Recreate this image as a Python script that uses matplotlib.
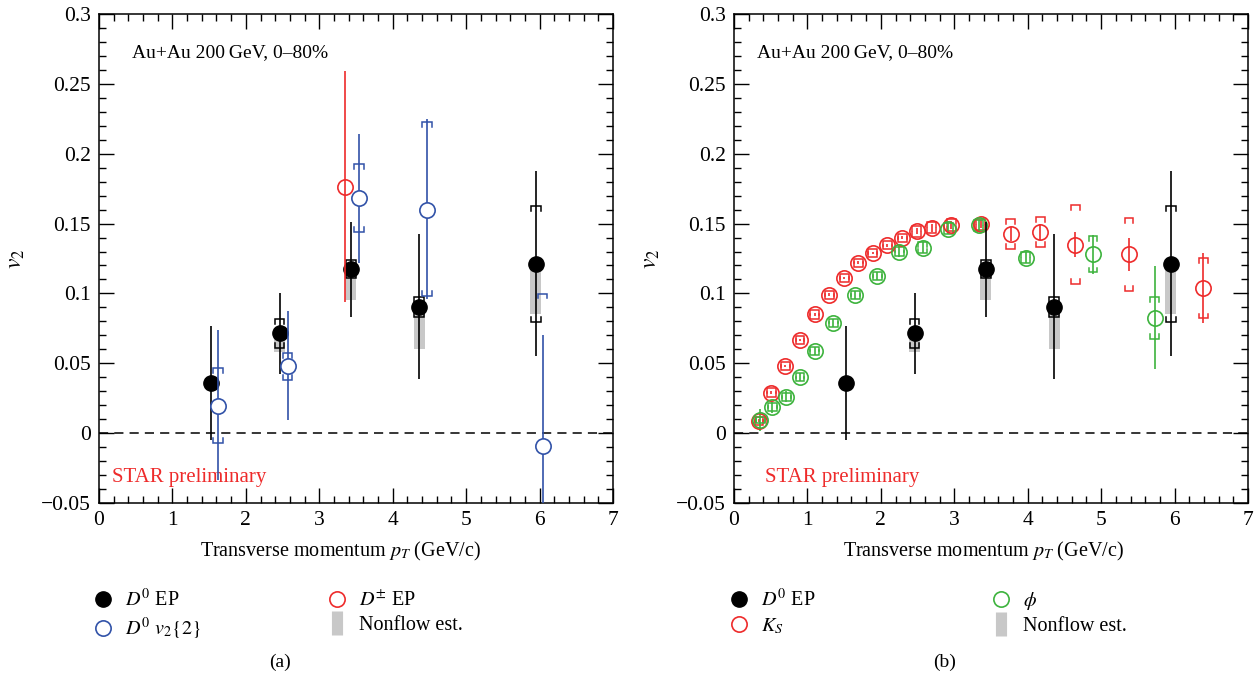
import matplotlib
matplotlib.use('Agg')
import matplotlib.pyplot as plt
from matplotlib.lines import Line2D
from matplotlib.ticker import MultipleLocator

plt.rcParams['font.family'] = ['Liberation Serif', 'DejaVu Serif']
plt.rcParams['mathtext.fontset'] = 'stix'

# ---------------- data ----------------
# D0 EP (both panels)
d0_pt = [1.52, 2.46, 3.43, 4.36, 5.95]
d0_v2 = [0.036, 0.0714, 0.1174, 0.0905, 0.1214]
d0_stat = [0.041, 0.029, 0.034, 0.052, 0.066]
d0_sys_hi = [0.003, 0.0103, 0.0065, 0.0066, 0.0410]
d0_sys_lo = [0.003, 0.0103, 0.0067, 0.0071, 0.0417]
d0_nonflow = [0.004, 0.0136, 0.0220, 0.0304, 0.0362]

# D0 v2{2}
d0v22_pt = [1.62, 2.57, 3.54, 4.47, 6.04]
d0v22_v2 = [0.0196, 0.0482, 0.168, 0.160, -0.0091]
d0v22_stat_hi = [0.054, 0.039, 0.046, 0.065, 0.079]
d0v22_stat_lo = [0.053, 0.039, 0.046, 0.064, 0.079]
d0v22_sys_hi = [0.0267, 0.0091, 0.0246, 0.0629, 0.109]
d0v22_sys_lo = [0.0263, 0.0100, 0.0238, 0.0617, 0.109]

# D+- EP
dpm_pt = [3.35]
dpm_v2 = [0.1759]
dpm_stat_hi = [0.083]
dpm_stat_lo = [0.082]

# K_S
ks_pt = [0.34, 0.51, 0.70, 0.90, 1.10, 1.30, 1.50, 1.69, 1.89, 2.09, 2.29,
         2.49, 2.69, 2.96, 3.36, 3.77, 4.17, 4.65, 5.38, 6.39]
ks_v2 = [0.0088, 0.029, 0.048, 0.0667, 0.085, 0.099, 0.111, 0.122, 0.129,
         0.1345, 0.1398, 0.1445, 0.147, 0.149, 0.1495, 0.1426, 0.144, 0.135,
         0.128, 0.1036]
ks_stat = [0.001, 0.001, 0.001, 0.001, 0.001, 0.001, 0.001, 0.001, 0.001,
           0.001, 0.001, 0.002, 0.003, 0.003, 0.003, 0.005, 0.006, 0.009,
           0.012, 0.025]
ks_sys = [0.003, 0.003, 0.003, 0.003, 0.003, 0.003, 0.003, 0.003, 0.003,
          0.003, 0.003, 0.004, 0.004, 0.004, 0.004, 0.0105, 0.0105, 0.028,
          0.026, 0.0215]

# phi
phi_pt = [0.36, 0.52, 0.71, 0.90, 1.10, 1.35, 1.65, 1.95, 2.25, 2.57, 2.92,
          3.33, 3.97, 4.89, 5.73]
phi_v2 = [0.0095, 0.0186, 0.026, 0.040, 0.059, 0.079, 0.099, 0.1126, 0.130,
          0.1326, 0.1464, 0.1488, 0.1257, 0.128, 0.0826]
phi_stat = [0.008, 0.004, 0.004, 0.003, 0.003, 0.003, 0.003, 0.003, 0.004,
            0.004, 0.004, 0.004, 0.004, 0.014, 0.037]
phi_sys = [0.002, 0.003, 0.003, 0.003, 0.003, 0.003, 0.003, 0.003, 0.003,
           0.004, 0.004, 0.004, 0.004, 0.013, 0.015]

# ---------------- style ----------------
RED = '#ee2b2b'
BLUE = '#3152a8'
GREEN = '#3db33d'
GRAY = '#c8c8c8'
MS = 11


def brackets(ax, x, y, lo, hi, color, hw=0.065, tick=0.0035, lw=1.1, z=3):
    for xi, yi, l, h in zip(x, y, lo, hi):
        top = yi + h
        bot = yi - l
        ax.plot([xi - hw, xi - hw, xi + hw, xi + hw],
                [top - tick, top, top, top - tick], color=color, lw=lw,
                zorder=z, solid_joinstyle='miter')
        ax.plot([xi - hw, xi - hw, xi + hw, xi + hw],
                [bot + tick, bot, bot, bot + tick], color=color, lw=lw,
                zorder=z, solid_joinstyle='miter')


def setup(ax, xlabel_pos, text_x):
    ax.set_xlim(0, 7)
    ax.set_ylim(-0.05, 0.3)
    ax.xaxis.set_major_locator(MultipleLocator(1))
    ax.xaxis.set_minor_locator(MultipleLocator(0.2))
    ax.yaxis.set_major_locator(MultipleLocator(0.05))
    ax.yaxis.set_minor_locator(MultipleLocator(0.01))
    ax.tick_params(which='both', direction='in', top=True, right=True,
                   labelsize=15.5, width=1.0)
    ax.tick_params(which='major', length=11, pad=6)
    ax.tick_params(which='minor', length=5)
    ax.yaxis.set_major_formatter(matplotlib.ticker.FuncFormatter(
        lambda v, p: ('%g' % round(v, 3)).replace('-', '\u2212')))
    for s in ax.spines.values():
        s.set_linewidth(1.1)
    ax.axhline(0, color='black', lw=1.1, ls=(0, (6, 4)), zorder=1)
    ax.set_xlabel(r'Transverse momentum $p_T$ (GeV/c)', fontsize=14.5,
                  labelpad=8)
    ax.xaxis.set_label_coords(xlabel_pos, -0.075)
    ax.set_ylabel(r'$v_2$', fontsize=17, labelpad=10)
    ax.text(text_x, 0.2725, 'Au+Au 200\u2009GeV, 0\u201380%',
            fontsize=14, va='center', ha='left')


def draw_d0(ax):
    ax.bar(d0_pt, d0_nonflow,
           bottom=[v - n for v, n in zip(d0_v2, d0_nonflow)],
           width=0.15, color=GRAY, zorder=1, linewidth=0)
    brackets(ax, d0_pt, d0_v2, d0_sys_lo, d0_sys_hi, 'black', z=4)
    ax.errorbar(d0_pt, d0_v2, yerr=d0_stat, fmt='o', color='black',
                ms=MS, elinewidth=1.2, capsize=0, zorder=5)


fig = plt.figure(figsize=(12.6, 6.8), dpi=100)
axL = fig.add_axes([99 / 1260, 1 - 503 / 680, 514 / 1260, 489 / 680])
axR = fig.add_axes([734 / 1260, 1 - 503 / 680, 514 / 1260, 489 / 680])

# ---- left panel ----
setup(axL, 0.469, 0.45)
draw_d0(axL)
brackets(axL, d0v22_pt, d0v22_v2, d0v22_sys_lo, d0v22_sys_hi, BLUE, z=6)
axL.errorbar(d0v22_pt, d0v22_v2, yerr=[d0v22_stat_lo, d0v22_stat_hi],
             fmt='o', color=BLUE, mfc='white', mec=BLUE, mew=1.2, ms=MS,
             elinewidth=1.2, capsize=0, zorder=7)
axL.errorbar(dpm_pt, dpm_v2, yerr=[dpm_stat_lo, dpm_stat_hi], fmt='o',
             color=RED, mfc='none', mec=RED, mew=1.2, ms=MS,
             elinewidth=1.2, capsize=0, zorder=6)
axL.text(0.18, -0.0315, 'STAR preliminary', color=RED, fontsize=15,
         va='center', ha='left')

# ---- right panel ----
setup(axR, 0.486, 0.31)
brackets(axR, ks_pt, ks_v2, ks_sys, ks_sys, RED, hw=0.06, z=3)
axR.errorbar(ks_pt, ks_v2, yerr=ks_stat, fmt='o', color=RED, mfc='none',
             mec=RED, mew=1.2, ms=MS, elinewidth=1.2, capsize=0, zorder=3)
brackets(axR, phi_pt, phi_v2, phi_sys, phi_sys, GREEN, hw=0.06, z=3)
axR.errorbar(phi_pt, phi_v2, yerr=phi_stat, fmt='o', color=GREEN,
             mfc='none', mec=GREEN, mew=1.2, ms=MS, elinewidth=1.2,
             capsize=0, zorder=3)
draw_d0(axR)
axR.text(0.42, -0.0315, 'STAR preliminary', color=RED, fontsize=15,
         va='center', ha='left')

# ---- legends ----
h_d0 = Line2D([], [], marker='o', ls='none', color='black', ms=MS)
h_v22 = Line2D([], [], marker='o', ls='none', mfc='none', mec=BLUE, mew=1.2,
               ms=MS)
h_dpm = Line2D([], [], marker='o', ls='none', mfc='none', mec=RED, mew=1.2,
               ms=MS)
h_ks = Line2D([], [], marker='o', ls='none', mfc='none', mec=RED, mew=1.2,
              ms=MS)
h_phi = Line2D([], [], marker='o', ls='none', mfc='none', mec=GREEN, mew=1.2,
               ms=MS)
h_nf = Line2D([], [], marker='|', ls='none', color=GRAY, mew=8, ms=17)

fig.legend([h_d0, h_v22, h_dpm, h_nf],
           [r'$D^0$ EP', r'$D^0\ v_2\{2\}$', r'$D^{\pm}$ EP', 'Nonflow est.'],
           loc='upper left', bbox_to_anchor=(93 / 1260, 1 - 589 / 680),
           ncol=2, frameon=False, fontsize=14.5, handlelength=1.0,
           handletextpad=0.6, columnspacing=6.25, labelspacing=0.25,
           borderpad=0, borderaxespad=0)
fig.legend([h_d0, h_ks, h_phi, h_nf],
           [r'$D^0$ EP', r'$K_S$', r'$\phi$', 'Nonflow est.'],
           loc='upper left', bbox_to_anchor=(729 / 1260, 1 - 589 / 680),
           ncol=2, frameon=False, fontsize=14.5, handlelength=1.0,
           handletextpad=0.6, columnspacing=8.7, labelspacing=0.25,
           borderpad=0, borderaxespad=0)

fig.text(280 / 1260, 1 - 662 / 680, '(a)', fontsize=14, ha='center',
         va='center')
fig.text(945 / 1260, 1 - 662 / 680, '(b)', fontsize=14, ha='center',
         va='center')

fig.savefig('out.png', dpi=100)
